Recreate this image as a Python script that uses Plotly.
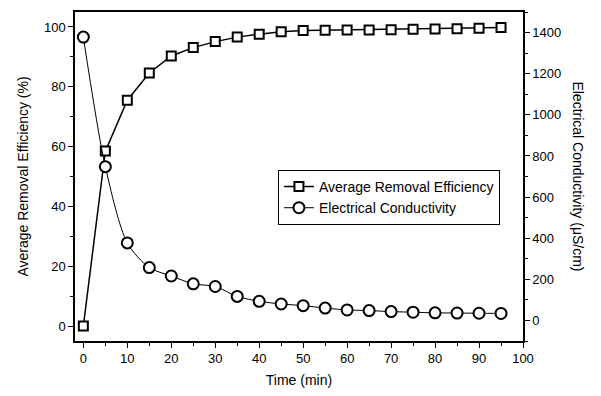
import plotly.graph_objects as go

time_min = [0, 5, 10, 15, 20, 25, 30, 35, 40, 45, 50, 55, 60, 65, 70, 75, 80, 85, 90, 95]
removal_eff = [0, 58.5, 75.5, 84.6, 90.3, 93.1, 95.1, 96.6, 97.6, 98.4, 98.8, 98.9, 99.0, 99.0, 99.1, 99.2, 99.3, 99.4, 99.6, 99.8]
conductivity = [1378, 748, 377, 257, 216, 178, 165, 117, 93, 80, 72, 60, 51, 48, 43, 40, 37, 36, 35, 34]

font = "Liberation Sans, Arial, sans-serif"

fig = go.Figure()
fig.add_trace(go.Scatter(
    x=time_min, y=removal_eff, name="Average Removal Efficiency",
    mode="lines+markers",
    line=dict(color="black", width=1.5),
    marker=dict(symbol="square", size=9, color="white", line=dict(color="black", width=2)),
    yaxis="y"))
fig.add_trace(go.Scatter(
    x=time_min, y=conductivity, name="Electrical Conductivity",
    mode="lines+markers",
    line=dict(color="black", width=1, shape="spline", smoothing=0.8),
    marker=dict(symbol="circle", size=11, color="white", line=dict(color="black", width=2)),
    yaxis="y2"))

axis_common = dict(showline=True, linecolor="black", linewidth=1.5, ticks="outside",
                   ticklen=5, tickwidth=1.2, tickcolor="black", showgrid=False, zeroline=False,
                   tickfont=dict(family=font, size=13, color="black"))

fig.update_layout(
    width=601, height=396,
    margin=dict(l=75, r=78, t=10, b=53),
    paper_bgcolor="white", plot_bgcolor="white",
    showlegend=True,
    legend=dict(x=0.453, y=0.52, xanchor="left", yanchor="top",
                bgcolor="white", bordercolor="black", borderwidth=1,
                font=dict(family=font, size=14, color="black"),
                tracegroupgap=0, itemwidth=30),
    xaxis=dict(range=[-1.9, 100], tickvals=[0,10,20,30,40,50,60,70,80,90,100], mirror=True,
               minor=dict(dtick=5, tick0=0, ticks="outside", ticklen=3, tickcolor="black"),
               title=dict(text="Time (min)", font=dict(family=font, size=14, color="black"), standoff=10),
               **axis_common),
    yaxis=dict(range=[-5, 105], tickvals=[0,20,40,60,80,100],
               minor=dict(dtick=10, tick0=0, ticks="outside", ticklen=3, tickcolor="black"),
               title=dict(text="Average Removal Efficiency (%)", font=dict(family=font, size=14, color="black"), standoff=12),
               **axis_common),
    yaxis2=dict(range=[-100, 1500], overlaying="y", side="right",
                tickvals=[0,200,400,600,800,1000,1200,1400],
                minor=dict(dtick=100, tick0=0, ticks="outside", ticklen=3, tickcolor="black"),
                **axis_common),
    annotations=[dict(text="Electrical Conductivity (μS/cm)", textangle=90,
                      xref="paper", yref="paper", x=1.123, y=0.5,
                      xanchor="center", yanchor="middle", showarrow=False,
                      font=dict(family=font, size=14, color="black"))],
)

fig.write_html("out.html", config={"displayModeBar": False},
               post_script="document.body.style.margin='0';")
